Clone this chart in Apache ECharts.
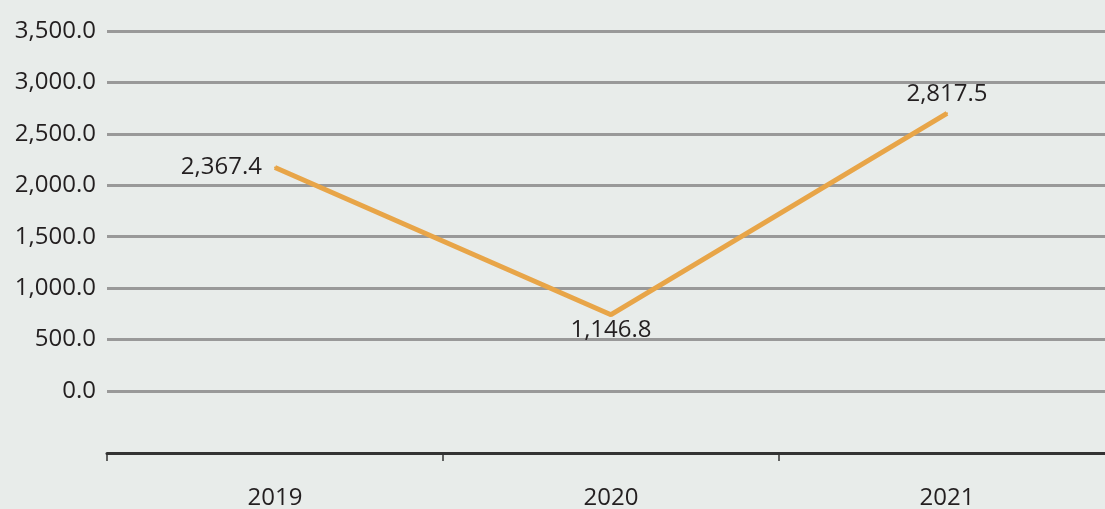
<!doctype html>
<html lang="en">
<head>
    <meta charset="utf-8">
    <title>line chart</title>
    <style>
        html, body { margin: 0; padding: 0; background: #e8ecea; }
        #chart { width: 1105px; height: 509px; }
    </style>
</head>
<body>
    <div id="chart"></div>
    <script src="https://cdn.jsdelivr.net/npm/echarts@6/dist/echarts.min.js"></script>
    <script>
        var years = ['2019', '2020', '2021'];
        var values = [2367.4, 1146.8, 2817.5];
        var labelPos = ['left', 'bottom', 'top'];
        var labelDist = [12, 2, 6];

        var fontFam = '"Open Sans", "Noto Sans", sans-serif';
        var textColor = '#231f20';
        var fs = 24;

        var chart = echarts.init(document.getElementById('chart'), null, { renderer: 'canvas' });

        function fmt(v) {
            return v.toLocaleString('en-US', { minimumFractionDigits: 1, maximumFractionDigits: 1 });
        }

        chart.setOption({
            backgroundColor: '#e8ecea',
            animation: false,
            grid: [
                // grid with the visible value labels and gridlines
                { left: 107, right: 0, top: 31, height: 360, outerBoundsMode: 'none' },
                // grid the line is drawn in
                { left: 107, right: -10, top: 31, bottom: 56, outerBoundsMode: 'none' }
            ],
            xAxis: [
                { gridIndex: 0, type: 'category', data: years, show: false },
                {
                    gridIndex: 1,
                    type: 'category',
                    data: years,
                    axisLine: { lineStyle: { color: '#333333', width: 3 } },
                    axisTick: { show: true, length: 8, lineStyle: { color: '#333333', width: 1.5 } },
                    axisLabel: { margin: 33, color: textColor, fontSize: fs, fontFamily: fontFam }
                }
            ],
            yAxis: [
                {
                    gridIndex: 0,
                    type: 'value',
                    min: 0,
                    max: 3500,
                    interval: 500,
                    axisLine: { show: false },
                    axisTick: { show: false },
                    axisLabel: {
                        margin: 11,
                        color: textColor,
                        fontSize: fs,
                        fontFamily: fontFam,
                        formatter: function (v) { return fmt(v); }
                    },
                    splitLine: { lineStyle: { color: '#999999', width: 3 } }
                },
                { gridIndex: 1, type: 'value', min: 0, max: 3500, show: false }
            ],
            series: [{
                type: 'line',
                xAxisIndex: 1,
                yAxisIndex: 1,
                data: values.map(function (v, i) {
                    return { value: v, label: { position: labelPos[i], distance: labelDist[i] } };
                }),
                symbol: 'circle',
                symbolSize: 2,
                showSymbol: true,
                itemStyle: { color: '#e8a548' },
                lineStyle: { color: '#e8a548', width: 5 },
                label: {
                    show: true,
                    color: textColor,
                    fontSize: fs,
                    fontFamily: fontFam,
                    formatter: function (p) { return fmt(p.value); }
                }
            }]
        });
    </script>
</body>
</html>
